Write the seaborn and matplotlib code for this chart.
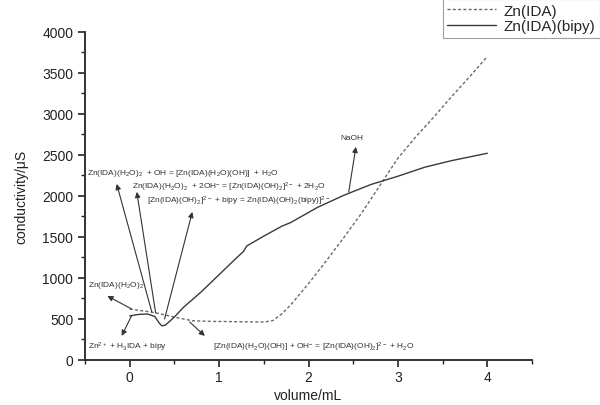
import numpy as np
import pandas as pd
import matplotlib
matplotlib.use("Agg")
import matplotlib.pyplot as plt
import seaborn as sns
from matplotlib.lines import Line2D

# titration curves
vol_ida = [0, 0.1, 0.2, 0.3, 0.5, 0.7, 0.9, 1.1, 1.3, 1.5, 1.6, 1.7, 1.8, 1.9,
           2.0, 2.2, 2.4, 2.6, 2.8, 3.0, 3.2, 3.4, 3.6, 3.8, 4.0]
cond_ida = [620, 605, 590, 572, 522, 478, 470, 468, 465, 462, 480, 560, 670, 800,
            930, 1210, 1500, 1800, 2130, 2460, 2720, 2960, 3210, 3450, 3700]

vol_bipy = [0, 0.1, 0.2, 0.28, 0.33, 0.36, 0.4, 0.5, 0.6, 0.8, 1.0, 1.2, 1.27,
            1.31, 1.5, 1.7, 1.8, 2.1, 2.4, 2.7, 3.0, 3.3, 3.6, 4.0]
cond_bipy = [537, 555, 560, 530, 450, 415, 425, 524, 640, 830, 1040, 1250, 1320,
             1390, 1510, 1630, 1675, 1860, 2010, 2140, 2240, 2350, 2430, 2520]

series_names = ["Zn(IDA)", "Zn(IDA)(bipy)"]

sns.set_style("ticks")
plt.rcParams["font.family"] = ["Liberation Sans", "DejaVu Sans"]
plt.rcParams["mathtext.default"] = "regular"

df = pd.concat([
    pd.DataFrame({"volume": vol_ida, "cond": cond_ida, "series": series_names[0]}),
    pd.DataFrame({"volume": vol_bipy, "cond": cond_bipy, "series": series_names[1]}),
])

fig = plt.figure(figsize=(6, 4.06), dpi=100)
ax = fig.add_axes([0.1417, 0.111, 0.745, 0.808])

sns.lineplot(data=df, x="volume", y="cond", hue="series", style="series",
             palette={series_names[0]: "#6a6a6a", series_names[1]: "#3a3a3a"},
             dashes={series_names[0]: (2.2, 1.6), series_names[1]: ""},
             linewidth=1.0, sort=False, estimator=None, ax=ax, legend=False)

ax.set_xlim(-0.5, 4.5)
ax.set_ylim(0, 4000)
ax.set_xticks([0, 1, 2, 3, 4])
ax.set_xticks([-0.5, 0.5, 1.5, 2.5, 3.5, 4.5], minor=True)
ax.set_yticks(np.arange(0, 4001, 500))
ax.set_yticks(np.arange(250, 4000, 500), minor=True)
ax.tick_params(which="major", length=5, width=1.2, labelsize=10, colors="#222222")
ax.tick_params(axis="x", which="major", pad=2)
ax.tick_params(which="minor", length=3, width=1.0, colors="#222222")
sns.despine(ax=ax)
for s in ("left", "bottom"):
    ax.spines[s].set_linewidth(1.4)
    ax.spines[s].set_color("#333333")
ax.set_xlabel("volume/mL", fontsize=10, labelpad=3, color="#222222")
ax.set_ylabel("conductivity/\u03bcS", fontsize=10, labelpad=10, color="#222222")

# legend box in the top right corner
handles = [Line2D([], [], color="#6a6a6a", lw=1.0, dashes=(2.2, 1.6)),
           Line2D([], [], color="#3a3a3a", lw=1.0)]
leg = fig.legend(handles, series_names, loc="upper right",
                 bbox_to_anchor=(1.0, 1.0), fontsize=11, frameon=True,
                 fancybox=False, edgecolor="#888888", handlelength=3.2,
                 borderpad=0.3, labelspacing=0.1, handletextpad=0.5,
                 borderaxespad=0.0)
leg.get_frame().set_linewidth(0.8)

arrow = dict(arrowstyle="-|>", color="#333333", lw=0.8,
             mutation_scale=8, shrinkA=0, shrinkB=0)
arrows = [
    ((-0.146, 2146), (0.247, 585)),
    ((0.079, 2049), (0.29, 573)),
    ((0.70, 1805), (0.39, 500)),
    ((2.53, 2598), (2.45, 2049)),
    ((-0.25, 780), (0.02, 622)),
    ((-0.09, 293), (0.02, 537)),
    ((0.84, 293), (0.67, 463)),
]
for head, tail in arrows:
    ax.annotate("", xy=head, xytext=tail, arrowprops=arrow)

labels = [
    (-0.483, 2280, r"Zn(IDA)(H$_2$O)$_2$  + OH = [Zn(IDA)(H$_2$O)(OH)]  + H$_2$O"),
    (0.022, 2122, r"Zn(IDA)(H$_2$O)$_2$  + 2OH$^{-}$ = [Zn(IDA)(OH)$_2$]$^{2-}$ + 2H$_2$O"),
    (0.19, 1951, r"[Zn(IDA)(OH)$_2$]$^{2-}$ + bipy = Zn(IDA)(OH)$_2$(bipy)]$^{2-}$"),
    (2.36, 2707, "NaOH"),
    (-0.47, 915, r"Zn(IDA)(H$_2$O)$_2$"),
    (-0.47, 160, r"Zn$^{2+}$ + H$_3$IDA + bipy"),
    (0.93, 170, r"[Zn(IDA)(H$_2$O)(OH)] + OH$^{-}$ = [Zn(IDA)(OH)$_2$]$^{2-}$ + H$_2$O"),
]
for x, y, t in labels:
    ax.text(x, y, t, fontsize=6, ha="left", va="center", color="#333333")

fig.savefig("out.png", dpi=100)
